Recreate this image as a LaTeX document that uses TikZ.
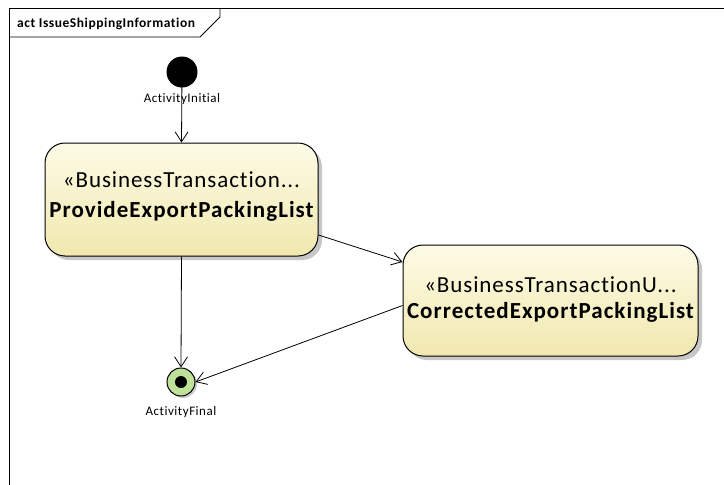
\documentclass[tikz,border=0pt]{standalone}
\usepackage{fontspec}
\setmainfont[Ligatures={NoCommon,NoRare}]{Carlito}
\newfontfamily\boxfont[LetterSpace=4,Ligatures={NoCommon,NoRare}]{Carlito}
\newfontfamily\boxfontb[LetterSpace=4.5,Ligatures={NoCommon,NoRare}]{Carlito}
\newfontfamily\smallfont[LetterSpace=4,Ligatures={NoCommon,NoRare}]{Carlito}
\usetikzlibrary{arrows.meta,shadows,calc}
\definecolor{boxlight}{HTML}{FDFBE6}
\definecolor{boxdark}{HTML}{F1E8AE}
\definecolor{finalgreen}{HTML}{BFE29A}
\tikzset{
  actbox/.style={draw=black, line width=1pt, rounded corners=20pt,
    top color=boxlight, bottom color=boxdark,
    drop shadow={shadow xshift=4pt, shadow yshift=-4pt, fill=black!22, opacity=1}},
  stereotext/.style={anchor=base, font=\boxfont\fontsize{23}{28}\selectfont, inner sep=0pt},
  nametext/.style={anchor=base, font=\boxfontb\bfseries\fontsize{23}{28}\selectfont, inner sep=0pt},
  flow/.style={draw=black, line width=0.8pt, -{Straight Barb[length=10pt,width=13pt,line width=0.8pt]}},
  smalllabel/.style={anchor=base, font=\smallfont\fontsize{13}{15}\selectfont, inner sep=0pt}
}
\begin{document}
\begin{tikzpicture}[x=1pt,y=-1pt]
\useasboundingbox (0,0) rectangle (724,485);
\fill[white] (0,0) rectangle (724,485);
% frame
\draw[line width=1pt] (9,485) -- (9,8) -- (724,8);
\draw[line width=0.8pt] (9,37) -- (200,37) -- (220,17) -- (220,8);
\node[anchor=base west, font=\smallfont\bfseries\fontsize{13.5}{15}\selectfont, inner sep=0pt] (title) at (17,27) {act IssueShippingInformation};
% initial
\node[circle, fill=black, minimum size=31pt, inner sep=0pt] (ini) at (182,72) {};
\node[smalllabel] (inilbl) at (182,102) {ActivityInitial};
% boxes
\node[actbox, minimum width=273pt, minimum height=113pt] (b1) at (181.5,199.5) {};
\node[stereotext] (b1s) at ([yshift=12.5pt]b1.center) {«BusinessTransaction...};
\node[nametext] (b1n) at ([yshift=-17.5pt]b1.center) {ProvideExportPackingList};
\node[actbox, minimum width=295pt, minimum height=111pt] (b2) at (550.5,300.5) {};
\node[stereotext] (b2s) at ([yshift=8.5pt]b2.center) {«BusinessTransactionU...};
\node[nametext] (b2n) at ([yshift=-17.5pt]b2.center) {CorrectedExportPackingList};
% final
\node[circle, draw=black, line width=1pt, fill=finalgreen, minimum size=28pt, inner sep=0pt,
  drop shadow={shadow xshift=2pt, shadow yshift=-2pt, fill=black!20, opacity=1}] (fin) at (181,382) {};
\node[circle, fill=black, minimum size=12pt, inner sep=0pt] (findot) at (fin.center) {};
\node[smalllabel] (finlbl) at (181,415) {ActivityFinal};
% flows
\draw[flow] (ini.center) -- (b1.north);
\draw[flow] (b1.south) -- (fin.north);
\draw[flow] ([yshift=-35.5pt]b1.east) -- ([yshift=38.5pt]b2.west);
\draw[flow] ([yshift=-5pt]b2.west) -- (fin.east);
\end{tikzpicture}
\end{document}
